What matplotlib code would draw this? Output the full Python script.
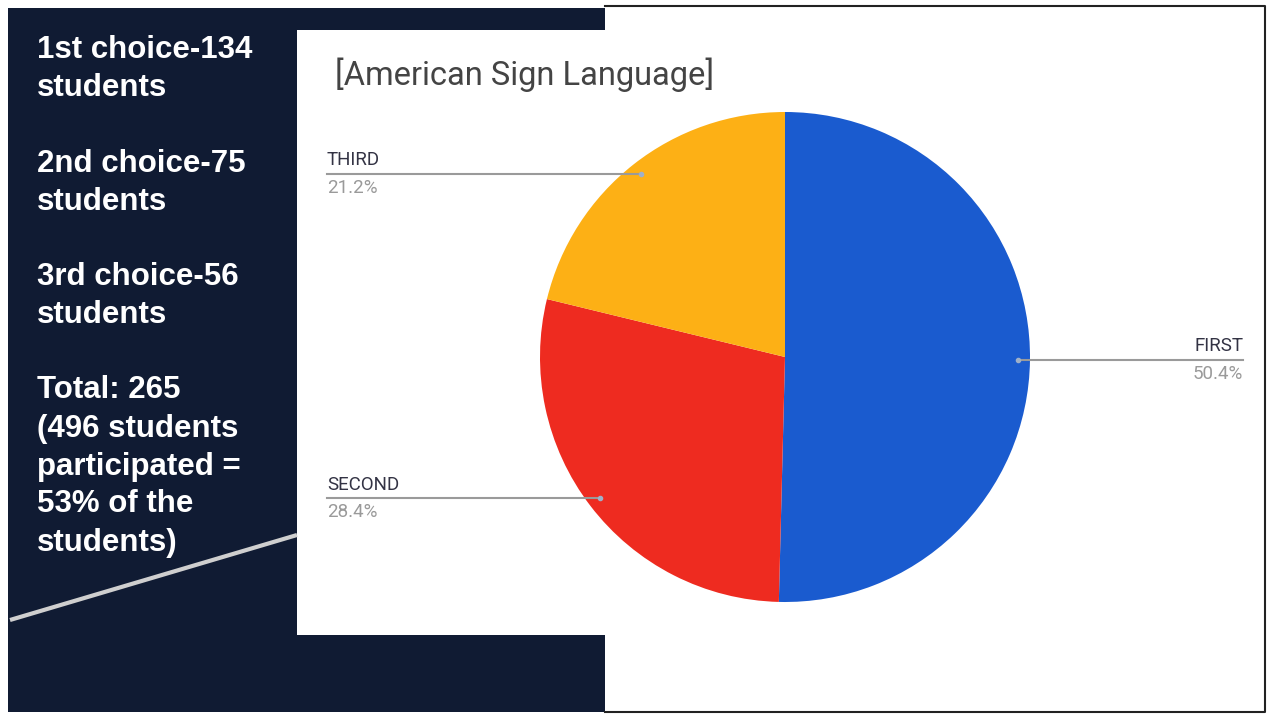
import matplotlib.pyplot as plt
import matplotlib.patches as patches
import numpy as np

# data
labels = ["FIRST", "SECOND", "THIRD"]
shares = [50.4, 28.4, 21.2]
colors = ["#1a5bcf", "#ee2b20", "#fdb015"]
side_text = ["1st choice-134", "students", "",
             "2nd choice-75", "students", "",
             "3rd choice-56", "students", "",
             "Total: 265", "(496 students", "participated =",
             "53% of the", "students)"]
title = "[American Sign Language]"

W, H = 1270, 715
fig = plt.figure(figsize=(W / 100, H / 100), dpi=100)
fig.patch.set_facecolor("white")

# background slide, in pixel coords
bg = fig.add_axes([0, 0, 1, 1])
bg.set_xlim(0, W)
bg.set_ylim(H, 0)
bg.axis("off")
navy = "#101b33"
bg.plot([605, 1265, 1265, 605], [6, 6, 712, 712], color="#222222", lw=1.5)
bg.add_patch(patches.Rectangle((8, 8), 597, 704, fc=navy, ec="none"))
bg.add_patch(patches.Rectangle((297, 30), 308, 605, fc="white", ec="none"))
bg.plot([10, 297], [620, 535], color="#cfcfcf", lw=3, solid_capstyle="butt")

y = 50
for line in side_text:
    if line:
        bg.text(37, y, line, color="white", fontsize=22.5, fontweight="bold",
                family="Liberation Sans", va="center", ha="left")
    y += 38 if line else 37.5

bg.text(335, 75, title, color="#444444", fontsize=23.5, family="Roboto",
        va="center", ha="left")

# pie
ax = fig.add_axes([540 / W, 113 / H, 490 / W, 490 / H])
wedges, _ = ax.pie(shares, colors=colors, startangle=90, counterclock=False,
                   radius=1, wedgeprops=dict(linewidth=0))
ax.set_xlim(-1, 1)
ax.set_ylim(-1, 1)
ax.set_aspect("equal")

for w, lab, s in zip(wedges, labels, shares):
    ang = np.deg2rad((w.theta1 + w.theta2) / 2)
    px, py = 0.95 * np.cos(ang), 0.95 * np.sin(ang)
    lx = 1.87 if px > 0 else -1.87
    ax.plot([px, lx], [py, py], color="#9a9a9a", lw=1.5, clip_on=False)
    ax.plot(px, py, "o", ms=3, color="#9fb0c8", clip_on=False)
    ha = "right" if px > 0 else "left"
    ax.text(lx, py + 0.02, lab, ha=ha, va="bottom", fontsize=13.5,
            family="Roboto", color="#333344", clip_on=False)
    ax.text(lx, py - 0.02, f"{s}%", ha=ha, va="top", fontsize=13.5,
            family="Roboto", color="#9a9a9a", clip_on=False)

fig.savefig("out.png", dpi=100, facecolor="white")
